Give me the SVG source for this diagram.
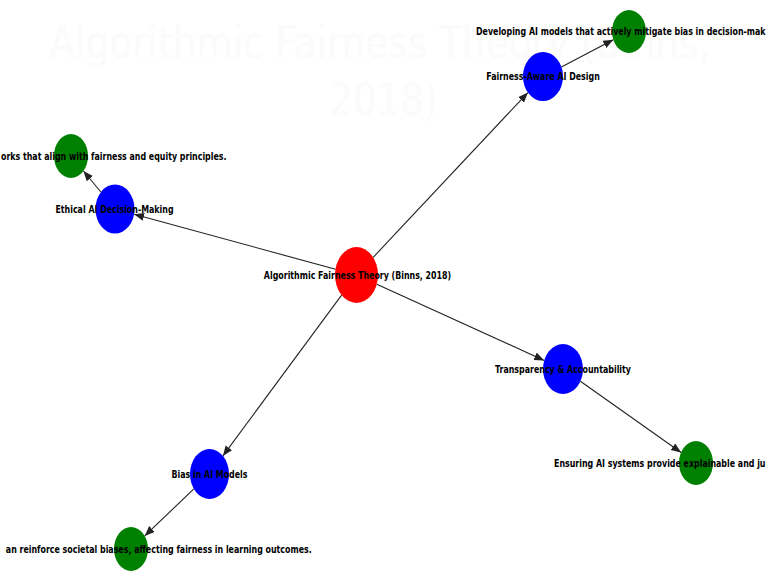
<svg xmlns="http://www.w3.org/2000/svg" width="768" height="576" viewBox="0 0 768 576">
<style>
.lbl{font-family:"DejaVu Sans","Liberation Sans",sans-serif;font-weight:bold;font-size:10px;fill:#000}
.ttl{font-family:"DejaVu Sans","Liberation Sans",sans-serif;font-size:44px;fill:#fbfbfb;text-anchor:middle}
.edge{stroke:#222;stroke-width:1.1;fill:none;marker-end:url(#arr)}
.red{fill:#ff0000}.blue{fill:#0000ff}.green{fill:#008000}
</style>
<defs>
<marker id="arr" markerUnits="userSpaceOnUse" markerWidth="12" markerHeight="10" refX="10" refY="4" orient="auto">
<path d="M0,0 L10,4 L0,8 Z" fill="#222"/>
</marker>
</defs>
<rect width="768" height="576" fill="#fff"/>
<g id="title">
<text class="ttl" transform="translate(380,58) scale(0.85,1)">Algorithmic Fairness Theory (Binns,</text>
<text class="ttl" transform="translate(384,115) scale(0.84,1)">2018)</text>
</g>
<g id="connectors">
<line class="edge" x1="373.2" y1="257.3" x2="527.9" y2="92.6"/>
<line class="edge" x1="561.4" y1="66.9" x2="613.3" y2="39.7"/>
<line class="edge" x1="335.5" y1="269.3" x2="134.1" y2="214.2"/>
<line class="edge" x1="100.9" y1="192.0" x2="83.4" y2="171.0"/>
<line class="edge" x1="376.8" y1="284.2" x2="544.2" y2="360.4"/>
<line class="edge" x1="580.4" y1="381.3" x2="681.1" y2="452.5"/>
<line class="edge" x1="341.6" y1="295.2" x2="222.9" y2="455.9"/>
<line class="edge" x1="193.9" y1="488.9" x2="144.7" y2="535.9"/>
</g>
<g id="n-center">
<ellipse class="red" cx="356.5" cy="275" rx="21.5" ry="28"/>
<text class="lbl" text-anchor="middle" transform="translate(357.5,278.5) scale(0.79,1)">Algorithmic Fairness Theory (Binns, 2018)</text>
</g>
<g id="n-fairness">
<ellipse class="blue" cx="543" cy="76.5" rx="20" ry="24.5"/>
<text class="lbl" text-anchor="middle" transform="translate(543,80) scale(0.79,1)">Fairness-Aware AI Design</text>
</g>
<g id="n-fairness-desc">
<ellipse class="green" cx="629" cy="31.5" rx="17" ry="21.5"/>
<text class="lbl" text-anchor="start" transform="translate(476,35) scale(0.79,1)">Developing AI models that actively mitigate bias in decision-mak</text>
</g>
<g id="n-ethical">
<ellipse class="blue" cx="115" cy="209" rx="19.5" ry="24.5"/>
<text class="lbl" text-anchor="middle" transform="translate(114.5,212.5) scale(0.79,1)">Ethical AI Decision-Making</text>
</g>
<g id="n-ethical-desc">
<ellipse class="green" cx="71" cy="156" rx="17" ry="22"/>
<text class="lbl" text-anchor="end" transform="translate(226.5,159.5) scale(0.79,1)">orks that align with fairness and equity principles.</text>
</g>
<g id="n-transparency">
<ellipse class="blue" cx="563" cy="369" rx="20" ry="25"/>
<text class="lbl" text-anchor="middle" transform="translate(563,372.5) scale(0.79,1)">Transparency &amp; Accountability</text>
</g>
<g id="n-transparency-desc">
<ellipse class="green" cx="696" cy="463" rx="17" ry="22"/>
<text class="lbl" text-anchor="start" transform="translate(554,466.5) scale(0.79,1)">Ensuring AI systems provide explainable and ju</text>
</g>
<g id="n-bias">
<ellipse class="blue" cx="209.5" cy="474" rx="19.5" ry="25"/>
<text class="lbl" text-anchor="middle" transform="translate(209.5,477.5) scale(0.79,1)">Bias in AI Models</text>
</g>
<g id="n-bias-desc">
<ellipse class="green" cx="131" cy="549" rx="17" ry="22"/>
<text class="lbl" text-anchor="end" transform="translate(311.7,552.5) scale(0.79,1)">an reinforce societal biases, affecting fairness in learning outcomes.</text>
</g>
</svg>
